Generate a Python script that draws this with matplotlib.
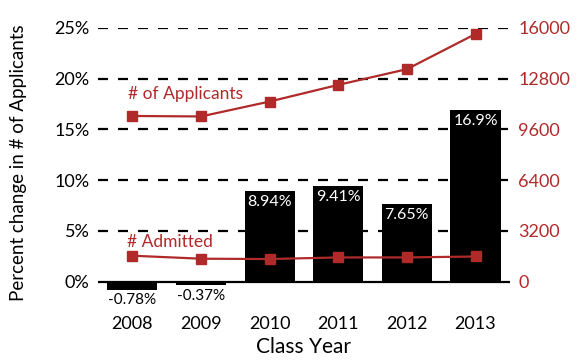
import matplotlib.pyplot as plt

plt.rcParams['font.family'] = ['Lato', 'DejaVu Sans']

years = ['2008', '2009', '2010', '2011', '2012', '2013']
pct_change = [-0.78, -0.37, 8.94, 9.41, 7.65, 16.9]
applicants = [10450, 10420, 11360, 12410, 13400, 15620]
admitted = [1640, 1450, 1430, 1530, 1530, 1590]

red = '#b02a2a'
x = list(range(len(years)))

fig = plt.figure(figsize=(5.8, 3.63), dpi=100)
ax = fig.add_axes([0.169, 0.182, 0.71, 0.741])
ax2 = ax.twinx()

# dashed gridlines behind the bars
for v in [5, 10, 15, 20, 25]:
    ax.axhline(v, color='black', linestyle=(0, (4.5, 4.5)), linewidth=1.6, zorder=0)
ax.axhline(0, color='black', linewidth=1.6, zorder=1)

ax.bar(x, pct_change, width=0.73, color='black', zorder=2)

# bar labels
for xi, v in zip(x, pct_change):
    if v < 0:
        ax.text(xi, v - 0.35, f'{v:.2f}%', ha='center', va='top', fontsize=11, color='black')
    else:
        lbl = f'{v:.1f}%' if v > 10 else f'{v:.2f}%'
        ax.text(xi, v - 0.4, lbl, ha='center', va='top', fontsize=11.5, color='white')

ax.set_xlim(-0.5, 5.5)
ax.set_ylim(-1.5, 25)
ax.set_yticks([0, 5, 10, 15, 20, 25])
ax.set_yticklabels(['0%', '5%', '10%', '15%', '20%', '25%'])
ax.set_xticks(x)
ax.set_xticklabels(years)
ax.tick_params(axis='both', length=0, labelsize=13)
ax.tick_params(axis='y', pad=6)
ax.tick_params(axis='x', pad=14)
ax.set_xlabel('Class Year', fontsize=15, labelpad=3)
ax.set_ylabel('Percent change in # of Applicants', fontsize=13.5, labelpad=20)

ax2.plot(x, applicants, color=red, linewidth=1.6, marker='s', markersize=7, zorder=3)
ax2.plot(x, admitted, color=red, linewidth=1.6, marker='s', markersize=7, zorder=3)
ax2.set_ylim(-960, 16000)
ax2.set_yticks([0, 3200, 6400, 9600, 12800, 16000])
ax2.tick_params(axis='y', length=0, labelsize=13, colors=red, pad=6)
ax2.text(-0.06, 11300, '# of Applicants', color=red, fontsize=12.5, ha='left', va='bottom')
ax2.text(-0.08, 2000, '# Admitted', color=red, fontsize=12.5, ha='left', va='bottom')

for a in (ax, ax2):
    for s in a.spines.values():
        s.set_visible(False)

fig.savefig('out.png', dpi=100)
